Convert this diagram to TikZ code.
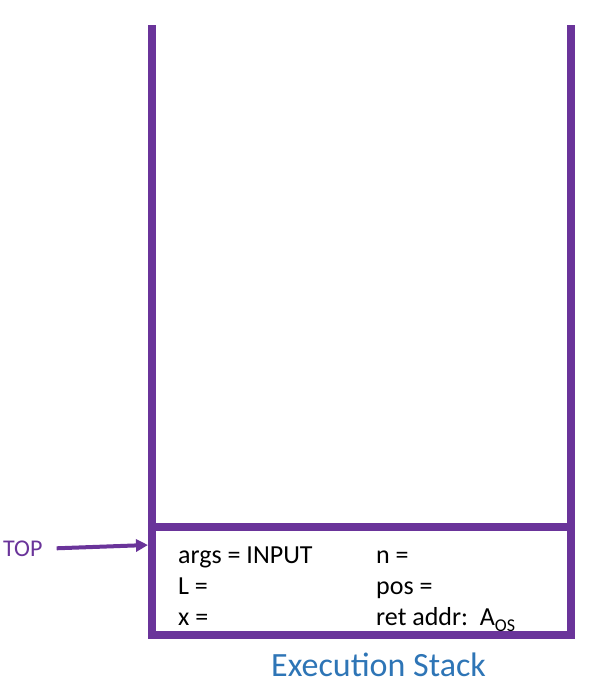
\documentclass[tikz,border=0pt]{standalone}
\usepackage{fontspec}
\setmainfont{Carlito}
\usetikzlibrary{arrows.meta}
\definecolor{stackpurple}{RGB}{106,52,154}
\definecolor{titleblue}{RGB}{46,117,182}
\newcommand{\lowsub}[1]{\raisebox{-6pt}{\fontsize{18}{20}\selectfont #1}}
\tikzset{
  wall/.style={draw=stackpurple, line width=8.5pt, line join=miter},
  cell/.style={anchor=base west, inner sep=0pt, font=\fontsize{26}{30}\selectfont, text=black},
  toplabel/.style={anchor=base west, inner sep=0pt, font=\fontsize{24}{29}\selectfont, text=stackpurple},
  pointer/.style={draw=stackpurple, line width=4pt, -{Triangle[length=12pt,width=12pt]}},
  caption/.style={anchor=base west, inner sep=0pt, font=\fontsize{34}{40}\selectfont, text=titleblue}
}
\begin{document}
\begin{tikzpicture}[x=1pt,y=-1pt]
\useasboundingbox (0,0) rectangle (600,696);
% stack walls
\coordinate (lt) at (152,25);
\coordinate (lb) at (152,635);
\coordinate (rb) at (571,635);
\coordinate (rt) at (571,25);
\coordinate (dl) at (152,527);
\coordinate (dr) at (571,527);
\draw[wall] (lt) -- (lb) -- (rb) -- (rt);
\draw[wall] (dl) -- (dr);
% frame contents
\node[cell] (args) at (178,563) {args = INPUT};
\node[cell] (lvar) at (178,594) {L =};
\node[cell] (xvar) at (178,625) {x =};
\node[cell] (nvar) at (376,563) {n =};
\node[cell] (pos) at (376,594) {pos =};
\node[cell] (ret) at (376,625) {ret addr:\ \ A\lowsub{OS}};
% top pointer
\node[toplabel] (top) at (3,556.5) {TOP};
\coordinate (tip) at (148,545);
\draw[pointer, shorten <=14pt] (top.east) -- (tip);
% caption
\node[caption] (cap) at (271,676.5) {Execution Stack};
\end{tikzpicture}
\end{document}
